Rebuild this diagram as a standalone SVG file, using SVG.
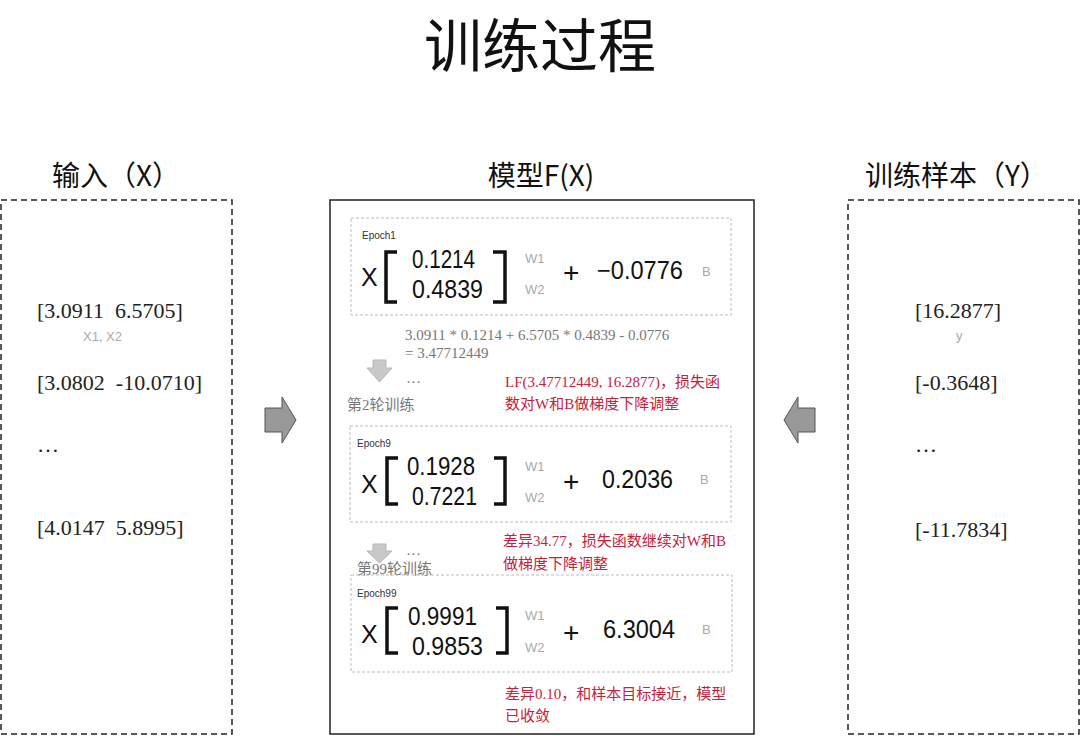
<svg xmlns="http://www.w3.org/2000/svg" width="1080" height="736" viewBox="0 0 1080 736">
<style>
.title{font-family:"Noto Sans CJK SC","Liberation Sans",sans-serif;fill:#111}
.data{font-family:"Liberation Serif","Noto Sans CJK SC",serif;font-size:22px;fill:#222}
.sub{font-family:"Liberation Sans",sans-serif;font-size:13px;fill:#aaa}
.outer{fill:none;stroke:#222;stroke-width:1.5;stroke-dasharray:6 4}
.model{fill:none;stroke:#222;stroke-width:1.5}
.inner{fill:none;stroke:#bbb;stroke-width:1;stroke-dasharray:3 2}
.ep{font-family:"Liberation Sans",sans-serif;font-size:10px;fill:#333}
.num{font-family:"Liberation Sans",sans-serif;font-size:25px;fill:#111}
.plus{font-family:"Liberation Sans",sans-serif;font-size:28px;fill:#111}
.brk{fill:none;stroke:#111;stroke-width:3.5}
.calc{font-family:"Liberation Serif","Noto Sans CJK SC",serif;font-size:15px;fill:#777}
.red{font-family:"Liberation Serif","Noto Sans CJK SC",serif;font-size:15px;fill:#c8203c}
.big{fill:#999;stroke:#555;stroke-width:1}
.down{fill:#c8c8c8;stroke:#b8b8b8;stroke-width:1}
</style>
<text class="title" x="424" y="67" font-size="58">训练过程</text>

<g id="input">
<rect class="outer" x="1" y="200" width="231" height="534"/>
<text class="title" x="52" y="186" font-size="28">输入（X）</text>
<text class="data" x="37" y="318" xml:space="preserve">[3.0911  6.5705]</text>
<text class="sub" x="83" y="341">X1, X2</text>
<text class="data" x="37" y="390" xml:space="preserve">[3.0802  -10.0710]</text>
<text class="data" x="37" y="452">…</text>
<text class="data" x="37" y="535" xml:space="preserve">[4.0147  5.8995]</text>
</g>

<g id="samples">
<rect class="outer" x="848" y="200" width="231" height="534"/>
<text class="title" x="865" y="186" font-size="28">训练样本（Y）</text>
<text class="data" x="915" y="318">[16.2877]</text>
<text class="sub" x="956" y="340">y</text>
<text class="data" x="915" y="390">[-0.3648]</text>
<text class="data" x="915" y="452">…</text>
<text class="data" x="915" y="537">[-11.7834]</text>
</g>

<g id="model">
<rect class="model" x="330" y="200" width="424" height="534"/>
<text class="title" x="541" y="186" font-size="28" text-anchor="middle">模型F(X)</text>
</g>

<g id="epoch1">
<rect class="inner" x="351" y="218" width="380" height="97"/>
<text class="ep" x="362" y="239">Epoch1</text>
<text class="num" x="361" y="286">X</text>
<path class="brk" d="M397,252 H386 V302 H397"/>
<text class="num" x="412" y="268" textLength="63" lengthAdjust="spacingAndGlyphs">0.1214</text>
<text class="num" x="412" y="298" textLength="71" lengthAdjust="spacingAndGlyphs">0.4839</text>
<path class="brk" d="M493,252 H505 V302 H493"/>
<text class="sub" x="525" y="263">W1</text>
<text class="sub" x="525" y="294">W2</text>
<text class="plus" x="563" y="282">+</text>
<text class="num" x="597" y="279" textLength="86" lengthAdjust="spacingAndGlyphs">−0.0776</text>
<text class="sub" x="702" y="276">B</text>
</g>

<g id="step1">
<text class="calc" x="405" y="340">3.0911 * 0.1214 + 6.5705 * 0.4839 - 0.0776</text>
<text class="calc" x="405" y="358">= 3.47712449</text>
<text class="calc" x="406" y="383">…</text>
<text class="calc" x="347" y="410">第2轮训练</text>
<text class="red" x="505" y="387">LF(3.47712449, 16.2877)，损失函</text>
<text class="red" x="505" y="409">数对W和B做梯度下降调整</text>
</g>

<g id="epoch9">
<rect class="inner" x="350" y="426" width="381" height="96"/>
<text class="ep" x="357" y="447">Epoch9</text>
<text class="num" x="361" y="493">X</text>
<path class="brk" d="M398,458 H387 V504 H398"/>
<text class="num" x="407" y="475" textLength="68" lengthAdjust="spacingAndGlyphs">0.1928</text>
<text class="num" x="412" y="505" textLength="65" lengthAdjust="spacingAndGlyphs">0.7221</text>
<path class="brk" d="M494,458 H505 V504 H494"/>
<text class="sub" x="525" y="471">W1</text>
<text class="sub" x="525" y="502">W2</text>
<text class="plus" x="563" y="491">+</text>
<text class="num" x="602" y="488" textLength="71" lengthAdjust="spacingAndGlyphs">0.2036</text>
<text class="sub" x="700" y="484">B</text>
</g>

<g id="step9">
<text class="red" x="503" y="546">差异34.77，损失函数继续对W和B</text>
<text class="red" x="503" y="569">做梯度下降调整</text>
<text class="calc" x="406" y="555">…</text>
</g>

<g id="connectors">
<polygon class="big" points="265,408 282,408 282,397 296,420 282,443 282,432 265,432"/>
<polygon class="big" points="815,408 798,408 798,397 784,420 798,443 798,432 815,432"/>
<polygon class="down" points="373,360 386,360 386,368 392,368 379.5,382 367,368 373,368"/>
<polygon class="down" points="373,544 386,544 386,551 392,551 379.5,563 367,551 373,551"/>
</g>

<g id="step99label">
<text class="calc" x="357" y="574">第99轮训练</text>
</g>

<g id="epoch99">
<rect class="inner" x="351" y="575" width="381" height="97"/>
<text class="ep" x="357" y="597">Epoch99</text>
<text class="num" x="361" y="643">X</text>
<path class="brk" d="M398,608 H387 V653 H398"/>
<text class="num" x="408" y="625" textLength="69" lengthAdjust="spacingAndGlyphs">0.9991</text>
<text class="num" x="412" y="655" textLength="71" lengthAdjust="spacingAndGlyphs">0.9853</text>
<path class="brk" d="M496,608 H507 V653 H496"/>
<text class="sub" x="525" y="620">W1</text>
<text class="sub" x="525" y="652">W2</text>
<text class="plus" x="563" y="642">+</text>
<text class="num" x="603" y="638" textLength="72" lengthAdjust="spacingAndGlyphs">6.3004</text>
<text class="sub" x="702" y="634">B</text>
</g>

<g id="result">
<text class="red" x="505" y="699">差异0.10，和样本目标接近，模型</text>
<text class="red" x="505" y="721">已收敛</text>
</g>
</svg>
